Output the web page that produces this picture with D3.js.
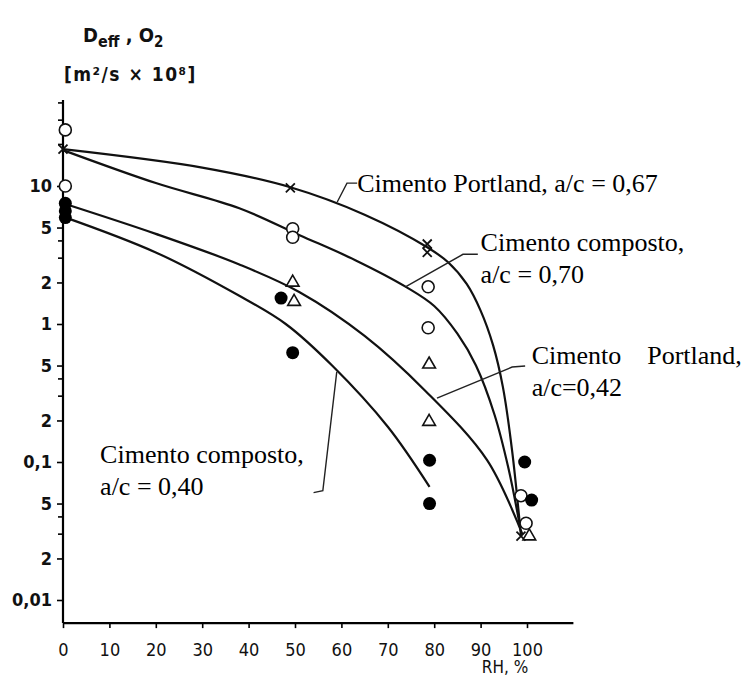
<!DOCTYPE html>
<html>
<head>
<meta charset="utf-8">
<script src="https://cdn.jsdelivr.net/npm/d3@7"></script>
<style>
  body { margin: 0; background: #fff; }
  .axis-font { font-family: "Liberation Sans Narrow", "DejaVu Sans Condensed", "Liberation Sans", sans-serif; font-weight: bold; fill: #111; }
  .note { font-family: "Liberation Serif", "DejaVu Serif", serif; fill: #000; }
</style>
</head>
<body>
<div id="chart"></div>
<script>
// X axis ticks (RH, %)
const xTicks = [0, 10, 20, 30, 40, 50, 60, 70, 80, 90, 100];

// Y axis (log) ticks and their printed labels
const yTickValues = [10, 5, 2, 1, 0.5, 0.2, 0.1, 0.05, 0.02, 0.01];
const yTickLabels = ["10", "5", "2", "1", "5", "2", "0,1", "5", "2", "0,01"];
const yMinorTicks = [40, 30, 20, 4, 3, 0.4, 0.3, 0.04, 0.03];

// Measured points [RH, Deff]
const portland067Pts = [[0, 18.5], [49, 9.7], [78.5, 3.8], [78.5, 3.3], [98.7, 0.029]];
const composto070Pts = [[0.5, 25.5], [0.5, 10], [49.5, 4.9], [49.5, 4.25], [78.7, 1.86], [78.7, 0.94], [98.7, 0.057], [99.8, 0.036]];
const portland042Pts = [[49.5, 2.0], [49.8, 1.45], [78.9, 0.51], [78.9, 0.196], [100.5, 0.029]];
const composto040Pts = [[0.5, 7.5], [0.5, 6.6], [0.5, 5.9], [47, 1.54], [49.5, 0.62], [79, 0.103], [79, 0.05], [99.5, 0.1], [101, 0.053]];

// Fitted curves [RH, Deff]
const portland067Curve = [[0, 18.5], [30, 13.6], [49, 9.8], [65, 6.2], [78.5, 3.6], [83, 2.8], [87, 1.95], [90, 1.25], [92.7, 0.7], [94.8, 0.35], [96.8, 0.12], [98.7, 0.029]];
const composto070Curve = [[0, 18.2], [20, 10.5], [38, 6.9], [51, 4.4], [63, 2.9], [74, 1.85], [80, 1.35], [85, 0.85], [89, 0.5], [93, 0.22], [96, 0.09], [98.5, 0.034]];
const portland042Curve = [[0, 7.5], [20, 4.5], [38, 2.7], [51, 1.7], [65, 0.82], [78, 0.33], [91.4, 0.103], [99, 0.03]];
const composto040Curve = [[0, 6.0], [20, 3.3], [38, 1.6], [48, 1.0], [58, 0.5], [70, 0.18], [79, 0.066]];

// Annotation labels (text centre) and leader lines, in data units
const labels = [
  { lines: ["Cimento Portland, a/c = 0,67"], at: [63.4, 10.5], leader: [[63.4, 10.5], [61.2, 10.5], [59.1, 7.66]] },
  { lines: ["Cimento composto,", "a/c = 0,70"], at: [90, 3.9], leader: [[89.4, 3.2], [86.2, 3.2], [73.7, 1.85]] },
  { lines: ["Cimento    Portland,", "a/c=0,42"], at: [101, 0.6], leader: [[99.6, 0.496], [96.8, 0.488], [80.6, 0.29]] },
  { lines: ["Cimento composto,", "a/c = 0,40"], at: [8, 0.115], leader: [[54, 0.06], [56, 0.062], [59, 0.45]] },
];

const width = 746, height = 677;
const svg = d3.select("#chart").append("svg").attr("width", width).attr("height", height);

const x = d3.scaleLinear().domain([0, 100]).range([63, 527]);
const y = d3.scaleLog().domain([0.01, 10]).range([600, 186]);
const yBottom = 0.0068, yTop = 42, xRight = 110;

const line = d3.line().x((d) => x(d[0])).y((d) => y(d[1])).curve(d3.curveCatmullRom.alpha(0.5));

// Axes
const xAxis = svg.append("g").attr("transform", `translate(0,${y(yBottom)})`)
  .call(d3.axisBottom(x).tickValues(xTicks).tickSize(5).tickPadding(15).tickFormat((d) => d));
xAxis.select(".domain").attr("d", `M${x(0)},0H${x(xRight)}`).attr("stroke-width", 2.2);
xAxis.selectAll("text").attr("class", "axis-font").style("font-size", "18px").style("font-weight", "normal");
xAxis.selectAll("line").attr("stroke-width", 1.6);

const yAxis = svg.append("g").attr("transform", `translate(${x(0)},0)`)
  .call(d3.axisLeft(y).tickValues(yTickValues).tickSize(6).tickPadding(5).tickFormat((d, i) => yTickLabels[i]));
yAxis.select(".domain").attr("d", `M0,${y(yBottom)}V${y(yTop)}`).attr("stroke-width", 2.2);
yAxis.selectAll("text").attr("class", "axis-font").style("font-size", "18px");
yAxis.selectAll("line").attr("stroke-width", 1.6);

svg.append("g").selectAll("line").data(yMinorTicks).enter().append("line")
  .attr("x1", x(0) - 5).attr("x2", x(0)).attr("y1", (d) => y(d)).attr("y2", (d) => y(d))
  .attr("stroke", "#000").attr("stroke-width", 1.6);

// Axis titles
const yt = svg.append("text").attr("class", "axis-font").attr("x", 83).attr("y", 42).style("font-size", "20px");
yt.append("tspan").text("D");
yt.append("tspan").attr("dy", 5).style("font-size", "16px").text("eff");
yt.append("tspan").attr("dy", -5).text(" , O");
yt.append("tspan").attr("dy", 5).style("font-size", "15px").text("2");
svg.append("text").attr("class", "axis-font").attr("x", 64).attr("y", 81).style("font-size", "19px")
  .style("letter-spacing", "1.5px").text("[m²/s × 10⁸]");
svg.append("text").attr("class", "axis-font").attr("x", 505).attr("y", 673)
  .attr("text-anchor", "middle").style("font-size", "17px").style("font-weight", "normal").text("RH, %");

// Curves
[portland067Curve, composto070Curve, portland042Curve, composto040Curve].forEach((c) => {
  svg.append("path").datum(c).attr("d", line).attr("fill", "none")
    .attr("stroke", "#111").attr("stroke-width", 2.2);
});

// Markers
const ms = svg.append("g");
ms.selectAll(".cross").data(portland067Pts).enter().append("path")
  .attr("d", (d) => { const cx = x(d[0]), cy = y(d[1]), r = 4.5;
    return `M${cx - r},${cy - r}L${cx + r},${cy + r}M${cx - r},${cy + r}L${cx + r},${cy - r}`; })
  .attr("stroke", "#111").attr("stroke-width", 1.8);
ms.selectAll(".oc").data(composto070Pts).enter().append("circle")
  .attr("cx", (d) => x(d[0])).attr("cy", (d) => y(d[1])).attr("r", 6)
  .attr("fill", "#fff").attr("stroke", "#111").attr("stroke-width", 1.6);
ms.selectAll(".tri").data(portland042Pts).enter().append("path")
  .attr("d", (d) => d3.symbol(d3.symbolTriangle, 70)())
  .attr("transform", (d) => `translate(${x(d[0])},${y(d[1])})`)
  .attr("fill", "#fff").attr("stroke", "#111").attr("stroke-width", 1.6);
ms.selectAll(".fc").data(composto040Pts).enter().append("circle")
  .attr("cx", (d) => x(d[0])).attr("cy", (d) => y(d[1])).attr("r", 6.5)
  .attr("fill", "#000");

// Labels with leaders
labels.forEach((l) => {
  svg.append("path").datum(l.leader).attr("d", d3.line().x((d) => x(d[0])).y((d) => y(d[1])))
    .attr("fill", "none").attr("stroke", "#222").attr("stroke-width", 1.4);
  const t = svg.append("text").attr("class", "note").attr("x", x(l.at[0])).attr("y", y(l.at[1]) + 9)
    .style("font-size", "26px").attr("xml:space", "preserve");
  l.lines.forEach((s, i) => t.append("tspan").attr("x", x(l.at[0])).attr("dy", i ? 32 : 0).text(s));
});
</script>
</body>
</html>
